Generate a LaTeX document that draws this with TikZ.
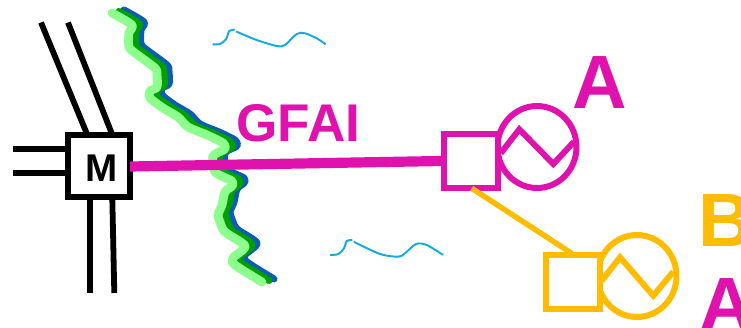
\documentclass[tikz,border=0pt]{standalone}
\usepackage{fontspec}
\usetikzlibrary{shapes.geometric}
\setmainfont{Liberation Sans}
\definecolor{gfai}{HTML}{DF12AE}
\definecolor{gelb}{HTML}{FFBC00}
\definecolor{fluss}{HTML}{12ABDC}
\definecolor{hell}{HTML}{8CFF8C}
\definecolor{dunkel}{HTML}{00A000}
\definecolor{blau}{HTML}{0A5CB4}
\tikzset{
  kasten/.style={rectangle,draw,line width=3.4pt,minimum size=1.08cm,inner sep=0pt},
  rad/.style={ellipse,draw,line width=3.4pt,minimum width=1.58cm,minimum height=1.64cm,inner sep=0pt},
  gleis/.style={line width=3.3pt,black},
  welle/.style={line width=3.4pt,line join=miter},
  ufer/.style={line width=1.1pt,fluss,line cap=round},
  gross/.style={font=\bfseries\fontsize{43}{43}\selectfont,inner sep=0pt,anchor=base west}
}
\def\ufer{plot[smooth,tension=.45] coordinates {(112,13) (132,25) (129,33) (129,47) (135,53)
  (155,68) (157,75) (157,87) (150,91) (150,98) (163,108) (178,117) (188,127) (207,135)
  (223,143) (225,149) (213,156) (215,172) (232,181) (232,186) (225,192) (222,205) (218,215)
  (220,222) (225,232) (245,246) (233,258) (235,265) (262,282)}}
\begin{document}
\begin{tikzpicture}[x=.02cm,y=-.02cm]
  \useasboundingbox (0,0) rectangle (741,328);

  % Fluss
  \draw[blau,line width=4pt,line join=round,line cap=round,xshift=.24cm,yshift=.06cm] \ufer;
  \draw[dunkel,line width=4pt,line join=round,line cap=round,xshift=.14cm,yshift=.03cm] \ufer;
  \draw[hell,line width=5pt,line join=round,line cap=round] \ufer;

  \draw (99,166) node[kasten,minimum size=1.24cm] (M) {};
  \draw (102,181.5) node[inner sep=0pt,anchor=base,font=\bfseries\fontsize{22}{22}\selectfont] (Mtext) {M};
  \draw (537,147) node[rad,draw=gfai] (GA) {};
  \draw (471,161) node[kasten,draw=gfai,fill=white] (SA) {};
  \draw (637,276) node[rad,draw=gelb] (GB) {};
  \draw (573,282) node[kasten,draw=gelb,fill=white] (SB) {};

  % Texte
  \draw (572.5,108) node[gross,gfai] (A1) {A};
  \draw (699,330) node[gross,gfai] (A2) {A};
  \draw (698,246) node[gross,gelb] (B1) {B};
  \draw (236,141.5) node[inner sep=0pt,anchor=base west,gfai,font=\bfseries\fontsize{30.2}{30.2}\selectfont] (GFAI) {GFAI};

  % Gleise
  \coordinate (n1) at (41,22.5);  \coordinate (m1) at (87,134);
  \coordinate (n2) at (68,22.5);  \coordinate (m2) at (112,134);
  \coordinate (w1) at (13,149.3); \coordinate (m3) at (67,149.3);
  \coordinate (w2) at (13,172.7); \coordinate (m4) at (67,172.7);
  \coordinate (s1) at (90,293);   \coordinate (m5) at (90,198);
  \coordinate (s2) at (114.3,293);\coordinate (m6) at (112.3,198);
  \draw[gleis] (n1)--(m1);
  \draw[gleis] (n2)--(m2);
  \draw[gleis] (w1)--(m3);
  \draw[gleis] (w2)--(m4);
  \draw[gleis] (s1)--(m5);
  \draw[gleis] (s2)--(m6);

  \coordinate (m7) at (130,166.5);
  \draw[gfai,line width=5.8pt] (m7)--(SA.west |- 0,161);
  \coordinate (sa1) at (471.7,188.3);
  \coordinate (sb1) at (571.7,253.3);
  \draw[gelb,line width=3.1pt] (sa1)--(sb1);

  % Wellen
  \draw[gfai,welle] (500.7,153.3)--(519.3,129.3)--(553.3,164)--(574,141.7);
  \draw[gelb,welle] (601.7,280.7)--(620,257.3)--(653.3,295.7)--(673.3,271.7);

  % Linien
  \draw[ufer] plot[smooth,tension=.5] coordinates {(213.3,44.3) (220,44) (226,39.3) (229.3,31) (234.3,29.7)};
  \draw[ufer] plot[smooth,tension=.5] coordinates {(236.7,31.7) (256.7,40) (276.7,46) (285,45) (296.7,34) (305,33.3) (316.7,38.3) (325.3,44)};
  \draw[ufer] plot[smooth,tension=.5] coordinates {(330.7,255) (338.3,254) (344,248.3) (346.7,241) (351.7,240)};
  \draw[ufer] plot[smooth,tension=.5] coordinates {(354.3,242) (380,254) (398.3,256.7) (405,253.3) (416,244) (426.7,245) (442.7,254.7)};
\end{tikzpicture}
\end{document}
